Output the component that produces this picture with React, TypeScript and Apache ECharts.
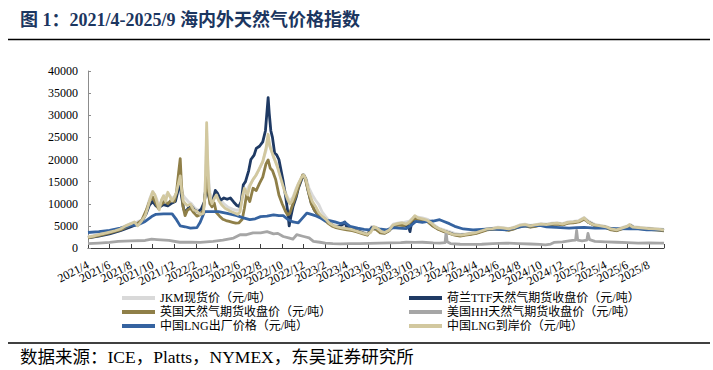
import React, { useEffect, useRef } from 'react';
import * as echarts from 'echarts';

// x: months elapsed since 2021/4/1 (fractional); y: 元/吨
const jkmSpot: [number, number][] = [
  [0, 2500], [1, 3100], [2, 3700], [3, 4500], [4, 5600], [4.5, 5800], [5, 6400], [5.4, 8500], [5.7, 11000], [6.0, 12800],
  [6.3, 11500], [6.6, 9500], [7.0, 11500], [7.4, 12300], [7.8, 11200], [8.1, 11800], [8.4, 13800], [8.6, 14500], [8.8, 12000],
  [9.0, 11300], [9.3, 10500], [9.6, 10000], [9.9, 9000], [10.2, 8600], [10.5, 8200], [10.8, 10000], [10.95, 20000], [11.0, 26500],
  [11.1, 18000], [11.3, 12500], [11.6, 10800], [11.9, 11800], [12.2, 11000], [12.6, 10000], [13.0, 9200], [13.4, 8800], [13.8, 8500],
  [14.1, 8800], [14.4, 12000], [14.7, 13000], [15.0, 14300], [15.4, 15800], [15.8, 17500], [16.2, 19500], [16.5, 22000], [16.7, 24500],
  [16.9, 23000], [17.2, 20500], [17.5, 19000], [17.8, 16500], [18.1, 14000], [18.4, 12000], [18.7, 10500], [19.0, 11500], [19.3, 13500],
  [19.6, 15000], [19.9, 16000], [20.2, 15800], [20.5, 13500], [20.8, 12000], [21.1, 10800], [21.4, 9800], [21.7, 8200], [22.0, 7200],
  [22.4, 6000], [22.8, 5300], [23.2, 4900], [23.6, 4700], [24.0, 4600], [24.5, 4300], [25.0, 4000], [25.5, 3600], [25.9, 3300],
  [26.3, 4900], [26.7, 4700], [27.1, 3900], [27.5, 3700], [27.9, 4200], [28.3, 5400], [28.8, 5700], [29.3, 5800], [29.8, 6100],
  [30.2, 7000], [30.6, 7000], [31.0, 6800], [31.5, 6500], [32.0, 5400], [32.5, 4500], [33.0, 4100], [33.5, 3700], [34.0, 3300],
  [34.5, 3100], [35.0, 3200], [35.5, 3400], [36.0, 3600], [36.5, 4000], [37.0, 4400], [37.5, 4500], [38.0, 4700], [38.5, 4600],
  [39.0, 4400], [39.5, 4700], [40.0, 5200], [40.5, 5400], [41.0, 5100], [41.5, 5300], [42.0, 5500], [42.5, 5400], [43.0, 5600],
  [43.5, 5700], [44.0, 5500], [44.5, 5900], [45.0, 6000], [45.5, 6200], [46.0, 6900], [46.4, 6100], [47.0, 5300], [47.5, 5100],
  [48.0, 4900], [48.5, 4400], [49.0, 4200], [49.5, 4600], [50.0, 5000], [50.3, 5300], [50.6, 4800], [51.0, 4700], [51.5, 4600],
  [52.0, 4500], [52.5, 4400], [53.0, 4300], [53.4, 4200],
];

const ttfClose: [number, number][] = [
  [0, 2300], [1, 2700], [2, 3200], [3, 3900], [4, 4800], [4.5, 5300], [5, 6000], [5.4, 7800], [5.7, 9700], [6.0, 10500],
  [6.3, 9500], [6.6, 9200], [7.0, 9800], [7.4, 9500], [7.8, 10200], [8.1, 10500], [8.3, 12500], [8.5, 15500], [8.65, 12000],
  [8.85, 9000], [9.0, 8000], [9.3, 9000], [9.6, 9400], [9.9, 8500], [10.2, 8200], [10.5, 8800], [10.8, 10500], [11.0, 16000],
  [11.15, 12000], [11.35, 10500], [11.6, 11000], [11.8, 13000], [12.0, 12400], [12.3, 10800], [12.6, 11300], [12.9, 11000],
  [13.2, 11300], [13.5, 10400], [13.8, 9600], [14.0, 9400], [14.2, 10500], [14.4, 14300], [14.6, 15000], [14.9, 17500],
  [15.1, 20000], [15.4, 21000], [15.6, 22500], [15.9, 23000], [16.2, 24000], [16.45, 26500], [16.6, 31000], [16.7, 34000],
  [16.8, 30500], [16.95, 26500], [17.1, 25000], [17.3, 21500], [17.5, 21000], [17.7, 20000], [17.9, 17500], [18.1, 15000],
  [18.3, 12000], [18.5, 8500], [18.65, 5000], [18.8, 7000], [19.0, 9300], [19.3, 11500], [19.5, 13500], [19.8, 15500],
  [20.0, 16500], [20.2, 15500], [20.4, 13000], [20.7, 10200], [21.0, 8500], [21.2, 7900], [21.6, 7200], [22.0, 6400],
  [22.4, 5600], [22.8, 4900], [23.2, 4800], [23.6, 5300], [23.8, 5900], [24.0, 4700], [24.4, 4400], [24.8, 4000], [25.2, 3700],
  [25.6, 3300], [25.9, 3000], [26.3, 4600], [26.7, 4400], [27.1, 3500], [27.5, 3400], [27.9, 3900], [28.3, 5000], [28.8, 5300],
  [29.3, 5100], [29.7, 5000], [29.85, 3700], [30.0, 5700], [30.3, 6800], [30.7, 6500], [31.1, 6400], [31.5, 6000], [32.0, 5000],
  [32.5, 4300], [33.0, 3800], [33.5, 3400], [34.0, 3000], [34.5, 2900], [35.0, 3000], [35.5, 3200], [36.0, 3400], [36.5, 3800],
  [37.0, 4200], [37.5, 4300], [38.0, 4400], [38.5, 4300], [39.0, 4100], [39.5, 4400], [40.0, 4900], [40.5, 5100], [41.0, 4800],
  [41.5, 5000], [42.0, 5300], [42.5, 5200], [43.0, 5400], [43.5, 5500], [44.0, 5300], [44.5, 5700], [45.0, 5800], [45.5, 6000],
  [46.0, 6600], [46.4, 5800], [47.0, 5100], [47.5, 4900], [48.0, 4700], [48.5, 4200], [49.0, 4000], [49.5, 4400], [50.0, 4800],
  [50.3, 5100], [50.6, 4600], [51.0, 4500], [51.5, 4400], [52.0, 4300], [52.5, 4200], [53.0, 4100], [53.4, 4000],
];

const ukClose: [number, number][] = [
  [0, 2300], [1, 2800], [2, 3400], [3, 4100], [4, 5200], [4.5, 5400], [5, 6300], [5.4, 8500], [5.7, 10500], [6.0, 11500],
  [6.2, 10500], [6.5, 9000], [6.8, 9800], [7.1, 10600], [7.4, 10000], [7.7, 10800], [8.0, 10500], [8.2, 12500], [8.4, 17000],
  [8.55, 20200], [8.65, 15000], [8.8, 9500], [9.0, 7300], [9.2, 8500], [9.5, 9000], [9.8, 8000], [10.1, 7200], [10.4, 7500],
  [10.7, 8500], [10.9, 13000], [11.0, 17500], [11.15, 13000], [11.3, 10000], [11.5, 9300], [11.7, 10200], [11.9, 8000],
  [12.2, 7200], [12.5, 6500], [12.8, 6200], [13.1, 6000], [13.4, 5800], [13.7, 5600], [14.0, 5700], [14.3, 6500], [14.5, 9000],
  [14.7, 12000], [15.0, 10500], [15.3, 13500], [15.6, 13000], [15.9, 14600], [16.2, 16000], [16.5, 19000], [16.7, 19900],
  [16.9, 18000], [17.1, 17500], [17.4, 15500], [17.7, 12000], [18.0, 10000], [18.3, 8300], [18.5, 7500], [18.7, 7800],
  [19.0, 10000], [19.3, 12000], [19.6, 14500], [19.9, 16500], [20.1, 16000], [20.4, 13000], [20.7, 10000], [21.0, 8500],
  [21.4, 7500], [21.8, 6600], [22.2, 5700], [22.6, 5000], [23.0, 4600], [23.5, 4300], [24.0, 4100], [24.5, 3900], [25.0, 3600],
  [25.5, 3200], [25.9, 2900], [26.3, 4300], [26.7, 4200], [27.1, 3400], [27.5, 3300], [27.9, 3900], [28.3, 4900], [28.8, 5200],
  [29.3, 5100], [29.8, 5600], [30.2, 6600], [30.6, 6500], [31.0, 6200], [31.5, 5900], [32.0, 4900], [32.5, 4200], [33.0, 3700],
  [33.5, 3300], [34.0, 2900], [34.5, 2700], [35.0, 2900], [35.5, 3100], [36.0, 3300], [36.5, 3700], [37.0, 4100], [37.5, 4200],
  [38.0, 4300], [38.5, 4200], [39.0, 4000], [39.5, 4300], [40.0, 4800], [40.5, 5000], [41.0, 4700], [41.5, 4900], [42.0, 5200],
  [42.5, 5100], [43.0, 5300], [43.5, 5400], [44.0, 5200], [44.5, 5600], [45.0, 5700], [45.5, 5900], [46.0, 6500], [46.4, 5800],
  [47.0, 5000], [47.5, 4800], [48.0, 4600], [48.5, 4100], [49.0, 3900], [49.5, 4300], [50.0, 4700], [50.3, 5000], [50.6, 4500],
  [51.0, 4400], [51.5, 4300], [52.0, 4200], [52.5, 4100], [53.0, 4000], [53.4, 3900],
];

const hhClose: [number, number][] = [
  [0, 970], [1, 1100], [2, 1250], [2.8, 1500], [4, 1600], [5.3, 1700], [5.9, 2000], [6.4, 1900], [7.5, 1700], [8.5, 1300],
  [9.5, 1300], [10.4, 1250], [11.6, 1500], [12.5, 1800], [13.5, 2250], [14.1, 3000], [14.7, 3000], [15.3, 3400], [16.0, 3400],
  [16.6, 3700], [17.2, 3200], [17.6, 3300], [18.1, 2600], [18.6, 2300], [19.0, 2000], [19.35, 3000], [20.0, 2600], [20.5, 2300],
  [20.9, 1500], [21.5, 1300], [22.0, 1100], [22.7, 1000], [23.4, 950], [24.3, 1000], [25.2, 1000], [26.1, 1050], [27.0, 1100],
  [28.0, 1150], [29.0, 1200], [29.5, 1300], [30.3, 1250], [31.0, 1300], [32.0, 1150], [32.6, 1100], [33.1, 1200], [33.2, 3600],
  [33.3, 1400], [33.6, 1000], [34.5, 850], [35.7, 800], [36.5, 850], [37.5, 1000], [38.8, 1100], [40.0, 1000], [41.0, 900],
  [41.9, 800], [42.4, 700], [42.9, 900], [43.2, 1250], [44.0, 1400], [44.9, 1700], [45.2, 1800], [45.3, 4000], [45.4, 1800],
  [45.8, 1600], [46.25, 1800], [46.35, 3300], [46.5, 1900], [47.0, 1500], [48.0, 1400], [49.0, 1300], [50.0, 1200], [51.0, 1100],
  [52.0, 1150], [53.0, 1100], [53.4, 1100],
];

const lngExFactory: [number, number][] = [
  [0, 3500], [1, 3700], [2, 4000], [3, 4500], [4, 5100], [4.6, 5200], [5.3, 6000], [5.9, 7100], [6.3, 7600], [7.0, 7700],
  [7.8, 7700], [8.2, 6400], [8.55, 5000], [9.0, 4800], [9.5, 4500], [10.1, 4600], [10.4, 5800], [10.8, 8200], [11.5, 8200],
  [12.1, 8200], [12.9, 7800], [13.8, 7300], [14.4, 6800], [15.0, 6400], [15.5, 6600], [16.0, 7100], [16.6, 7200], [17.2, 7500],
  [17.7, 7300], [18.1, 7300], [18.5, 6500], [19.0, 5900], [19.5, 5700], [19.9, 6800], [20.3, 7900], [20.7, 7600], [21.2, 7200],
  [21.6, 6700], [22.0, 6100], [22.4, 6200], [22.9, 5900], [23.4, 5500], [23.8, 5800], [24.3, 4900], [25.0, 4500], [25.6, 4200],
  [26.1, 4100], [26.5, 4600], [27.0, 4300], [27.7, 4100], [28.3, 4600], [28.8, 4500], [29.5, 4400], [30.0, 5200], [30.4, 6000],
  [31.0, 5800], [31.5, 6000], [32.0, 6100], [32.6, 6400], [33.0, 6000], [33.5, 5500], [34.0, 4900], [34.8, 4300], [35.7, 4100],
  [36.5, 4200], [37.3, 4300], [38.0, 4200], [38.8, 4100], [39.5, 4500], [40.3, 4900], [41.0, 5000], [41.9, 5100], [42.5, 4800],
  [43.4, 4650], [44.6, 4500], [45.3, 4600], [46.0, 4650], [47.0, 4500], [48.0, 4500], [49.0, 4400], [50.2, 4350], [51.0, 4300],
  [51.8, 4100], [52.5, 4100], [53.4, 4100],
];

const lngLanded: [number, number][] = [
  [0, 2450], [0.5, 2700], [1, 3000], [1.5, 3300], [2, 3600], [2.5, 3900], [3, 4300], [3.5, 5000], [4, 5500], [4.3, 5900],
  [4.6, 5000], [5, 6200], [5.3, 7300], [5.5, 8800], [5.75, 11000], [6.0, 12700], [6.2, 12000], [6.4, 10300], [6.6, 8600],
  [6.8, 10800], [7.0, 11800], [7.2, 10500], [7.4, 12600], [7.6, 11600], [7.8, 10600], [8.0, 11400], [8.2, 12600], [8.4, 14800],
  [8.55, 16300], [8.7, 12500], [8.85, 10500], [9.0, 10100], [9.2, 9600], [9.5, 9900], [9.8, 8600], [10.1, 8300], [10.4, 7600],
  [10.7, 7800], [10.85, 12000], [10.95, 22000], [11.0, 28300], [11.08, 21000], [11.2, 13500], [11.35, 11000], [11.5, 10000],
  [11.7, 11200], [11.9, 12000], [12.1, 10800], [12.4, 9700], [12.7, 9000], [13.0, 8600], [13.3, 8200], [13.6, 7900], [13.9, 7600],
  [14.1, 8200], [14.3, 11500], [14.5, 13500], [14.8, 12000], [15.0, 14000], [15.3, 15500], [15.6, 16500], [15.9, 18000],
  [16.2, 19500], [16.5, 22500], [16.7, 25700], [16.85, 23000], [17.0, 22000], [17.3, 20000], [17.6, 18000], [17.9, 15500],
  [18.2, 13000], [18.5, 11000], [18.7, 10000], [18.9, 10500], [19.2, 12500], [19.5, 14500], [19.8, 16000], [20.0, 16500],
  [20.2, 15500], [20.5, 12500], [20.8, 10500], [21.1, 9400], [21.4, 8000], [21.7, 7200], [22.0, 6600], [22.4, 5600], [22.8, 5000],
  [23.2, 4700], [23.6, 4500], [24.0, 4400], [24.4, 4200], [24.8, 3900], [25.2, 3600], [25.6, 3300], [25.9, 3100], [26.2, 3500],
  [26.5, 4800], [26.8, 4500], [27.2, 3700], [27.5, 3500], [27.9, 4000], [28.3, 5200], [28.7, 5500], [29.1, 5700], [29.5, 5400],
  [29.8, 5900], [30.1, 6700], [30.3, 7300], [30.6, 6800], [31.0, 6600], [31.4, 6300], [31.8, 5700], [32.2, 4800], [32.6, 4300],
  [33.0, 3900], [33.4, 3500], [33.8, 3100], [34.2, 3000], [34.6, 2900], [35.0, 3100], [35.5, 3300], [36.0, 3500], [36.5, 3900],
  [37.0, 4300], [37.5, 4400], [38.0, 4600], [38.5, 4500], [39.0, 4300], [39.5, 4600], [40.0, 5100], [40.5, 5300], [41.0, 5000],
  [41.5, 5200], [42.0, 5400], [42.5, 5300], [43.0, 5500], [43.5, 5600], [44.0, 5400], [44.5, 5800], [45.0, 5900], [45.5, 6100],
  [45.8, 6500], [46.0, 6800], [46.3, 6000], [46.7, 5400], [47.0, 5200], [47.5, 5000], [48.0, 4800], [48.5, 4300], [49.0, 4100],
  [49.5, 4500], [50.0, 4900], [50.2, 5300], [50.5, 4700], [51.0, 4600], [51.5, 4500], [52.0, 4400], [52.5, 4300], [53.0, 4200],
  [53.4, 4100],
];

const seriesNames = [
  'JKM现货价（元/吨）',
  '荷兰TTF天然气期货收盘价（元/吨）',
  '英国天然气期货收盘价（元/吨）',
  '美国HH天然气期货收盘价（元/吨）',
  '中国LNG出厂价格（元/吨）',
  '中国LNG到岸价（元/吨）',
];
const seriesData = [jkmSpot, ttfClose, ukClose, hhClose, lngExFactory, lngLanded];
const seriesColors = ['#d9d9d9', '#1f3a64', '#8f7f48', '#a6a6a6', '#3563a0', '#d2c89f'];

const titleText = '图 1：2021/4-2025/9 海内外天然气价格指数';
const sourceText = '数据来源：ICE，Platts，NYMEX，东吴证券研究所';

const START_YEAR = 2021;
const START_MONTH = 4;
const X_MAX = 53.4;

const SERIF = "'Liberation Serif', 'Times New Roman', 'Noto Sans CJK SC', serif";

function monthLabel(v: number): string {
  const r = Math.round(v);
  if (Math.abs(v - r) > 1e-6 || r % 2 !== 0) return '';
  const total = START_MONTH - 1 + r;
  const y = START_YEAR + Math.floor(total / 12);
  const m = (total % 12) + 1;
  return `${y}/${m}`;
}

export default function App() {
  const ref = useRef<HTMLDivElement>(null);
  useEffect(() => {
    if (!ref.current) return;
    const chart = echarts.init(ref.current, null, { renderer: 'svg' });
    const legendText = { fontSize: 12, fontFamily: SERIF, color: '#000', lineHeight: 12 };
    chart.setOption({
      animation: false,
      backgroundColor: '#ffffff',
      grid: { left: 88, top: 71, width: 576, height: 177, containLabel: false },
      xAxis: [
        {
          // label axis: one step per month, labels only on even steps
          type: 'value',
          position: 'bottom',
          min: 0,
          max: X_MAX,
          interval: 1,
          splitLine: { show: false },
          axisLine: { show: true, lineStyle: { color: '#404040', width: 1 } },
          axisTick: { show: false },
          axisLabel: {
            rotate: 27,
            margin: 16,
            showMaxLabel: false,
            fontSize: 12,
            fontFamily: SERIF,
            color: '#000',
            formatter: monthLabel,
          },
        },
        {
          // tick axis: a tick every two months
          type: 'value',
          position: 'bottom',
          min: 0,
          max: X_MAX,
          interval: 2,
          splitLine: { show: false },
          axisLine: { show: false },
          axisTick: { show: true, inside: true, length: 4, lineStyle: { color: '#404040' } },
          axisLabel: { show: false },
        },
      ],
      yAxis: {
        type: 'value',
        min: 0,
        max: 40000,
        interval: 5000,
        splitLine: { show: false },
        axisLine: { show: true, lineStyle: { color: '#8c8c8c', width: 1 } },
        axisTick: { show: true, inside: true, length: 3, lineStyle: { color: '#8c8c8c' } },
        axisLabel: {
          margin: 10,
          fontSize: 12,
          fontFamily: SERIF,
          color: '#000',
          formatter: (v: number) => String(v),
        },
      },
      legend: [
        {
          data: [seriesNames[0], seriesNames[2], seriesNames[4]],
          orient: 'vertical',
          left: 117,
          top: 287,
          itemWidth: 33,
          itemHeight: 4,
          itemGap: 2,
          icon: 'rect',
          textStyle: legendText,
        },
        {
          data: [seriesNames[1], seriesNames[3], seriesNames[5]],
          orient: 'vertical',
          left: 404,
          top: 287,
          itemWidth: 33,
          itemHeight: 4,
          itemGap: 2,
          icon: 'rect',
          textStyle: legendText,
        },
      ],
      series: seriesNames.map((name, i) => ({
        name,
        type: 'line',
        xAxisIndex: 0,
        data: seriesData[i],
        showSymbol: false,
        symbol: 'none',
        color: seriesColors[i],
        lineStyle: { width: 2.8, color: seriesColors[i], join: 'round' },
        z: 2 + i,
      })),
      graphic: [
        {
          type: 'text',
          left: 20,
          top: 11,
          style: { text: titleText, fill: '#1b3660', font: `bold 18px ${SERIF}` },
        },
        { type: 'line', shape: { x1: 8, y1: 39.5, x2: 710, y2: 39.5 }, style: { stroke: '#000', lineWidth: 1.5 } },
        { type: 'line', shape: { x1: 8, y1: 343, x2: 710, y2: 343 }, style: { stroke: '#000', lineWidth: 1.5 } },
        {
          type: 'text',
          left: 20,
          top: 348,
          style: { text: sourceText, fill: '#000', font: `17.5px ${SERIF}` },
        },
      ],
    });
    return () => chart.dispose();
  }, []);
  return (
    <div
      ref={ref}
      style={{ position: 'absolute', left: 0, top: 0, width: 713, height: 370, background: '#fff' }}
    />
  );
}
